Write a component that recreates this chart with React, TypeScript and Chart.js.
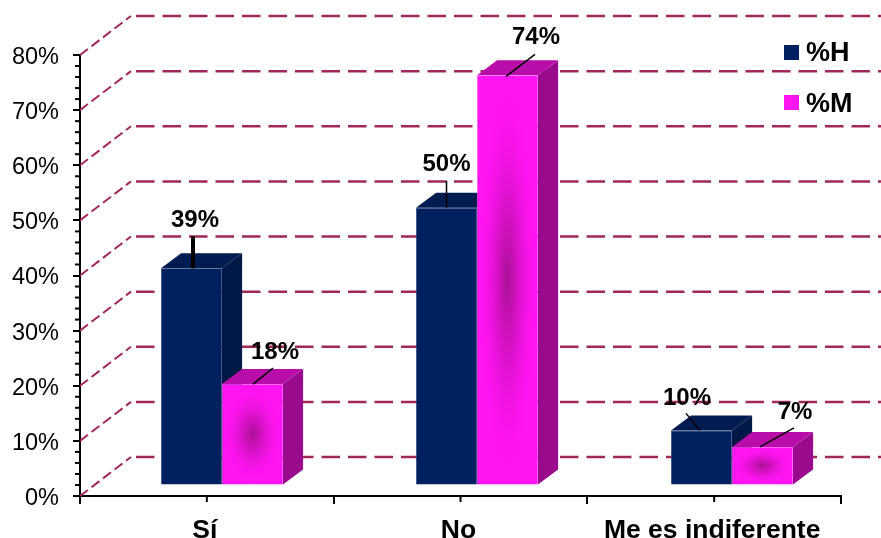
import React, { useEffect, useRef } from "react";
import { Chart, registerables } from "chart.js";

Chart.register(...registerables);

const categories = ["Sí", "No", "Me es indiferente"];
const seriesH = [39.4, 50.4, 10];
const seriesM = [18.4, 74.4, 7];
const labelsH = ["39%", "50%", "10%"];
const labelsM = ["18%", "74%", "7%"];
const yTicks = [0, 10, 20, 30, 40, 50, 60, 70, 80];
const minorTicks = [2, 4, 6, 8];

const FONT = "'Liberation Sans', Arial, sans-serif";
const NAVY = { front: "#002060", top: "#001C50", side: "#001846", edge: "#2A3F78" };
const PINK = { front: "#FF14F2", top: "#B90DAA", side: "#990A8C", edge: "#FF50F5" };
const GRID = "#A02858";

// 3D projection of the bars and back wall
const DEPTH_X = 20;
const DEPTH_Y = -15;
const FLOOR_SHIFT = -10.5;
const WALL_X = 55;
const WALL_Y = -39;
const SCALE_X = 1.00526;
const SHIFT_X = 14.08;

// Leader line and label placement relative to each bar's top centre: [x1, y1, x2, y2, textX, textY, lineWidth]
const leadersH = [
  [1.5, 0, 1.5, -32, 3.5, -47.5, 4],
  [0, 0, 0, -27, 0, -43.5, 1.5],
  [-1.5, 0, -15.5, -17, -14.5, -32.5, 1.5],
];
const leadersM = [
  [0.5, 0, 20.5, -16, 22.5, -31.5, 1.5],
  [-1.5, 1, 27.5, -21, 28.5, -37.5, 1.5],
  [-2.5, 0, 31.5, -19, 32.5, -34.5, 1.5],
];

const scene = {
  id: "scene3d",
  beforeDatasetsDraw(chart: any) {
    const { ctx, scales } = chart;
    const { x, y } = scales;
    ctx.save();
    // back wall grid
    ctx.strokeStyle = GRID;
    yTicks.forEach((v) => {
      const py = y.getPixelForValue(v);
      ctx.lineWidth = 2;
      ctx.setLineDash([10, 4.5]);
      ctx.beginPath();
      ctx.moveTo(x.left, py);
      ctx.lineTo(x.left + WALL_X - 4, py + WALL_Y);
      ctx.stroke();
      ctx.lineWidth = 2.5;
      ctx.setLineDash([18.5, 8]);
      ctx.beginPath();
      ctx.moveTo(x.left + WALL_X + 1, py + WALL_Y);
      ctx.lineTo(chart.width, py + WALL_Y);
      ctx.stroke();
    });
    ctx.setLineDash([]);
    ctx.restore();

    // minor ticks on the axis
    ctx.save();
    ctx.strokeStyle = "#000";
    ctx.lineWidth = 2;
    yTicks.slice(0, -1).forEach((v) => {
      minorTicks.forEach((m) => {
        const py = y.getPixelForValue(v + m);
        ctx.beginPath();
        ctx.moveTo(x.left - 5, py);
        ctx.lineTo(x.left, py);
        ctx.stroke();
      });
    });
    categories.forEach((_, i) => {
      const px = x.getPixelForValue(i);
      ctx.beginPath();
      ctx.moveTo(px, y.bottom);
      ctx.lineTo(px, y.bottom + 6);
      ctx.stroke();
    });
    ctx.restore();

    // everything bar-related lives on the raised floor
    ctx.save();
    ctx.transform(SCALE_X, 0, 0, 1, SHIFT_X, FLOOR_SHIFT);
    [NAVY, PINK].forEach((c, d) => {
      chart.getDatasetMeta(d).data.forEach((el: any) => {
        const l = el.x - el.width / 2;
        const r = el.x + el.width / 2;
        const t = el.y;
        const b = el.base;
        ctx.fillStyle = c.side;
        ctx.beginPath();
        ctx.moveTo(r, t);
        ctx.lineTo(r + DEPTH_X, t + DEPTH_Y);
        ctx.lineTo(r + DEPTH_X, b + DEPTH_Y);
        ctx.lineTo(r, b);
        ctx.closePath();
        ctx.fill();
        ctx.fillStyle = c.top;
        ctx.beginPath();
        ctx.moveTo(l, t);
        ctx.lineTo(l + DEPTH_X, t + DEPTH_Y);
        ctx.lineTo(r + DEPTH_X, t + DEPTH_Y);
        ctx.lineTo(r, t);
        ctx.closePath();
        ctx.fill();
      });
    });
  },
  afterDatasetsDraw(chart: any) {
    const { ctx } = chart;
    // soft dark glow in the pink front faces
    chart.getDatasetMeta(1).data.forEach((el: any) => {
      const l = el.x - el.width / 2;
      const t = el.y;
      const w = el.width;
      const h = el.base - el.y;
      ctx.save();
      ctx.beginPath();
      ctx.rect(l, t, w, h);
      ctx.clip();
      ctx.translate(l + w / 2, t + h / 2);
      ctx.scale(w / 2, h / 2);
      const g = ctx.createRadialGradient(0, 0, 0, 0, 0, 0.95);
      g.addColorStop(0, "rgba(160,16,140,0.9)");
      g.addColorStop(0.4, "rgba(190,16,170,0.55)");
      g.addColorStop(1, "rgba(255,20,242,0)");
      ctx.fillStyle = g;
      ctx.fillRect(-1, -1, 2, 2);
      ctx.restore();
    });
    ctx.restore();

    // leader lines and value labels
    ctx.save();
    ctx.fillStyle = "#000";
    ctx.strokeStyle = "#000";
    ctx.font = `bold 24px ${FONT}`;
    ctx.textAlign = "center";
    ctx.textBaseline = "middle";
    [
      [leadersH, labelsH],
      [leadersM, labelsM],
    ].forEach(([leaders, texts]: any, d) => {
      chart.getDatasetMeta(d).data.forEach((el: any, i: number) => {
        const cx = el.x * SCALE_X + SHIFT_X;
        const top = el.y + FLOOR_SHIFT;
        const [x1, y1, x2, y2, tx, ty, lw] = leaders[i];
        ctx.lineWidth = lw;
        ctx.beginPath();
        ctx.moveTo(cx + x1, top + y1);
        ctx.lineTo(cx + x2, top + y2);
        ctx.stroke();
        ctx.fillText(texts[i], cx + tx, top + ty);
      });
    });
    ctx.restore();

    // legend
    ctx.save();
    ctx.font = `bold 27px ${FONT}`;
    ctx.textAlign = "left";
    ctx.textBaseline = "middle";
    chart.data.datasets.forEach((ds: any, i: number) => {
      const cy = 52.5 + i * 50;
      ctx.fillStyle = i === 0 ? NAVY.front : PINK.front;
      ctx.fillRect(784, cy - 7.5, 15, 15);
      ctx.fillStyle = "#000";
      ctx.fillText(ds.label, 806, cy + 1 + i);
    });
    ctx.restore();
  },
};

export default function App() {
  const ref = useRef<HTMLCanvasElement>(null);
  useEffect(() => {
    const chart = new Chart(ref.current as HTMLCanvasElement, {
      type: "bar",
      data: {
        labels: categories,
        datasets: [
          { label: "%H", data: seriesH, backgroundColor: NAVY.front, borderColor: NAVY.edge, borderWidth: 0.75, order: 1 },
          { label: "%M", data: seriesM, backgroundColor: PINK.front, borderColor: PINK.edge, borderWidth: 0.75, order: 2 },
        ],
      },
      options: {
        responsive: false,
        animation: false,
        clip: false,
        layout: { padding: { left: 0, top: 55, right: 40, bottom: 0 } },
        datasets: { bar: { categoryPercentage: 0.4784, barPercentage: 1 } },
        plugins: { legend: { display: false }, tooltip: { enabled: false }, title: { display: false } },
        scales: {
          x: {
            type: "category",
            afterFit: (s: any) => { s.height = 42; },
            grid: { drawOnChartArea: false, tickLength: 8, tickColor: "#000", lineWidth: 2, offset: true },
            border: { color: "#000", width: 2 },
            ticks: { color: "#000", font: { family: FONT, size: 26.5, weight: "bold" }, padding: 11, maxRotation: 0, autoSkip: false, labelOffset: -2 },
          },
          y: {
            type: "linear",
            min: 0,
            max: 80,
            afterFit: (s: any) => { s.width = 80; },
            grid: { drawOnChartArea: false, tickLength: 7, tickColor: "#000", lineWidth: 2 },
            border: { color: "#000", width: 2 },
            ticks: { stepSize: 10, color: "#000", font: { family: FONT, size: 23.5 }, padding: 14, labelOffset: 2.5, callback: (v: any) => `${v}%` },
          },
        },
      } as any,
      plugins: [scene],
    });
    return () => chart.destroy();
  }, []);
  return (
    <div style={{ position: "fixed", left: 0, top: 0, width: 881, height: 538, background: "#fff" }}>
      <canvas ref={ref} width={881} height={538} style={{ display: "block" }} />
    </div>
  );
}
